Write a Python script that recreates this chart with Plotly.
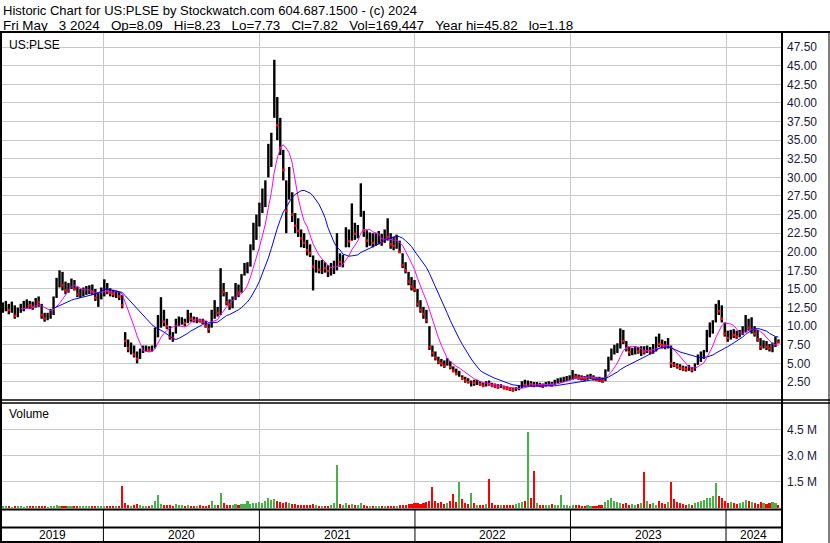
import pandas as pd
import plotly.graph_objects as go

W, H = 830, 543

title_line1 = "Historic Chart for US:PLSE by Stockwatch.com 604.687.1500 - (c) 2024"
title_line2 = "Fri May  3 2024  Op=8.09  Hi=8.23  Lo=7.73  Cl=7.82  Vol=169,447  Year hi=45.82  lo=1.18"
symbol_label = "US:PLSE"

# weekly bars (week ending Friday, last = 2024-05-03)
week_high = [
    13.2, 13.4, 13.0, 13.3, 12.8, 12.5, 13.0, 13.4, 13.6, 13.4, 13.3, 13.8, 14.0, 13.0, 11.8, 11.8, 12.3, 14.0, 16.5, 17.5,
    17.3, 16.0, 15.8, 16.4, 16.2, 15.3, 15.0, 15.2, 15.4, 15.5, 15.6, 15.0, 14.6, 15.2, 16.3, 15.8, 15.1, 14.9, 14.8, 14.6,
    14.2, 9.2, 8.2, 7.8, 7.4, 6.6, 7.0, 7.4, 7.4, 7.3, 7.4, 9.8, 11.5, 13.9, 12.2, 11.0, 10.0, 9.2, 11.0, 11.3,
    11.2, 11.0, 12.2, 11.8, 11.3, 11.2, 11.0, 11.0, 10.7, 10.3, 12.2, 13.5, 12.6, 17.8, 15.8, 14.6, 13.6, 14.0, 15.8, 15.6,
    17.0, 18.5, 18.6, 21.0, 23.9, 25.0, 26.6, 28.5, 29.6, 34.5, 36.0, 45.8, 40.8, 38.0, 33.7, 29.6, 31.4, 28.0, 25.2, 24.5,
    23.0, 22.5, 21.6, 21.0, 19.5, 18.9, 18.8, 18.9, 18.6, 18.2, 18.5, 18.8, 22.5, 19.8, 19.6, 23.3, 23.0, 26.5, 23.9, 23.6,
    29.2, 25.5, 22.9, 22.6, 22.5, 22.5, 22.8, 22.4, 23.0, 24.5, 22.5, 22.0, 22.3, 21.5, 19.8, 18.6, 17.3, 16.6, 16.2, 15.0,
    13.5, 12.6, 12.2, 10.0, 7.4, 6.6, 5.9, 5.6, 5.4, 5.7, 5.3, 4.6, 4.3, 4.0, 3.4, 3.2, 3.0, 2.7, 2.8, 2.8,
    2.6, 2.4, 2.6, 2.7, 2.4, 2.3, 2.2, 2.2, 2.0, 1.9, 1.8, 1.7, 1.8, 2.0, 2.6, 2.8, 2.7, 2.6, 2.5, 2.5,
    2.4, 2.3, 2.5, 2.6, 2.5, 2.8, 3.0, 3.1, 3.2, 3.3, 3.4, 4.1, 3.6, 3.5, 3.4, 3.3, 3.5, 3.6, 3.4, 3.2,
    3.2, 3.1, 4.2, 5.9, 7.0, 7.5, 7.7, 9.7, 9.5, 8.0, 7.2, 7.1, 7.3, 7.2, 7.3, 7.3, 7.4, 7.2, 7.6, 8.6,
    9.0, 8.2, 8.0, 8.4, 7.4, 5.2, 5.0, 4.9, 4.7, 4.6, 4.8, 4.5, 5.0, 6.2, 6.6, 6.8, 9.5, 10.5, 10.8, 13.0,
    13.5, 12.8, 10.5, 9.4, 9.5, 9.6, 9.4, 9.5, 10.0, 11.5, 11.0, 11.2, 10.0, 9.5, 8.4, 8.1, 8.0, 7.6, 7.8, 8.6,
    8.23,
]
week_low = [
    11.8, 12.0, 11.6, 11.8, 11.0, 11.2, 11.8, 12.0, 12.4, 12.3, 12.2, 12.5, 12.6, 11.0, 10.6, 10.8, 11.0, 11.5, 13.8, 15.2,
    14.8, 14.3, 14.5, 15.0, 14.8, 13.9, 13.8, 14.0, 14.2, 14.3, 14.2, 13.4, 12.6, 13.6, 14.0, 14.3, 14.0, 13.9, 13.8, 13.5,
    12.4, 7.2, 6.5, 6.2, 5.8, 5.0, 5.6, 6.4, 6.6, 6.5, 6.6, 7.0, 8.5, 9.8, 10.0, 9.6, 8.2, 7.9, 9.0, 10.0,
    10.2, 10.0, 10.4, 10.6, 10.5, 10.4, 10.5, 10.3, 9.8, 9.1, 9.8, 11.0, 11.3, 11.5, 14.0, 12.8, 12.2, 12.4, 13.5, 13.9,
    14.5, 16.8, 17.1, 18.0, 20.2, 21.6, 23.4, 25.2, 26.0, 30.0, 31.4, 38.0, 35.0, 33.0, 29.6, 22.5, 27.0, 24.0, 22.5, 22.0,
    20.6, 20.5, 19.5, 19.3, 14.8, 17.2, 17.1, 17.0, 17.2, 16.6, 16.8, 17.0, 17.5, 18.0, 17.9, 20.6, 20.6, 21.5, 21.6, 21.8,
    24.7, 22.0, 20.6, 20.8, 20.6, 20.8, 21.0, 20.8, 21.2, 21.5, 20.4, 20.2, 20.4, 19.8, 17.8, 17.1, 15.5, 14.8, 14.6, 12.6,
    11.8, 11.0, 10.4, 6.8, 5.9, 5.4, 4.9, 4.6, 4.4, 4.7, 4.2, 3.8, 3.4, 3.2, 2.8, 2.4, 2.3, 1.9, 2.0, 2.1,
    2.0, 1.8, 1.9, 2.0, 1.8, 1.7, 1.6, 1.7, 1.5, 1.4, 1.3, 1.2, 1.3, 1.4, 1.7, 1.9, 2.0, 1.9, 1.8, 1.9,
    1.8, 1.7, 1.9, 2.0, 1.9, 2.1, 2.3, 2.4, 2.5, 2.6, 2.7, 2.8, 2.9, 2.8, 2.7, 2.6, 2.8, 2.9, 2.7, 2.6,
    2.5, 2.4, 2.6, 3.9, 5.4, 6.2, 6.4, 7.0, 7.6, 6.6, 6.0, 6.1, 6.2, 6.3, 6.0, 6.2, 6.4, 6.2, 6.3, 6.6,
    7.2, 7.0, 6.9, 7.0, 4.4, 4.5, 4.3, 4.1, 4.0, 3.9, 4.0, 3.8, 4.0, 4.8, 5.2, 5.6, 6.5, 8.5, 9.0, 10.5,
    11.5, 10.5, 8.6, 7.9, 8.2, 8.4, 8.3, 8.5, 8.8, 9.2, 9.4, 9.0, 8.6, 7.9, 6.8, 7.0, 6.8, 6.6, 6.5, 7.2,
    7.73,
]
week_close = [
    12.5, 12.8, 12.2, 12.9, 11.4, 12.0, 12.6, 12.7, 13.0, 12.8, 12.6, 13.3, 13.2, 11.5, 11.0, 11.2, 11.8, 13.6, 16.0, 16.3,
    15.5, 14.8, 15.2, 15.8, 15.0, 14.3, 14.5, 14.6, 14.8, 15.0, 14.6, 13.8, 14.2, 14.8, 15.5, 14.8, 14.5, 14.3, 14.4, 14.0,
    12.8, 8.0, 7.0, 7.2, 6.2, 5.6, 6.4, 6.9, 7.0, 6.8, 7.1, 9.2, 10.8, 11.6, 10.6, 10.0, 8.6, 8.4, 10.5, 10.6,
    10.8, 10.4, 11.5, 11.0, 10.8, 10.9, 10.7, 10.5, 10.0, 9.6, 11.5, 12.0, 11.8, 15.4, 14.6, 13.2, 12.8, 13.8, 15.0, 14.5,
    16.8, 17.6, 18.0, 20.5, 22.5, 24.0, 24.8, 27.5, 28.8, 33.5, 34.5, 42.0, 37.0, 34.0, 31.0, 25.5, 29.0, 25.0, 23.5, 22.8,
    21.8, 21.2, 20.2, 19.8, 18.0, 18.2, 17.6, 18.3, 17.8, 17.4, 17.9, 18.2, 19.0, 18.6, 19.2, 22.0, 21.4, 23.5, 22.4, 23.0,
    26.0, 22.8, 21.5, 21.8, 21.2, 21.6, 22.0, 21.3, 22.3, 22.0, 21.0, 20.8, 21.5, 20.0, 18.2, 17.5, 16.0, 15.3, 15.0, 13.0,
    12.2, 11.6, 10.8, 7.2, 6.4, 5.8, 5.2, 5.0, 4.7, 5.2, 4.5, 4.0, 3.6, 3.7, 3.0, 2.7, 2.5, 2.6, 2.4, 2.4,
    2.2, 2.0, 2.3, 2.2, 2.0, 1.9, 1.8, 1.9, 1.7, 1.6, 1.5, 1.4, 1.5, 1.7, 2.2, 2.1, 2.5, 2.2, 2.1, 2.2,
    2.0, 1.9, 2.2, 2.3, 2.1, 2.5, 2.7, 2.8, 2.9, 3.0, 3.0, 3.4, 3.2, 3.1, 3.0, 2.9, 3.2, 3.3, 3.0, 2.8,
    2.7, 2.6, 3.9, 5.4, 6.6, 6.8, 7.3, 8.8, 8.0, 7.0, 6.5, 6.6, 6.8, 6.6, 7.0, 6.5, 7.0, 6.6, 7.2, 7.8,
    7.6, 7.5, 7.4, 7.8, 5.0, 4.8, 4.6, 4.4, 4.3, 4.2, 4.4, 4.1, 4.6, 5.8, 6.0, 6.5, 9.0, 9.4, 10.2, 12.4,
    12.0, 11.0, 9.0, 8.4, 9.0, 8.8, 8.6, 9.2, 9.6, 10.8, 9.8, 10.2, 9.0, 8.2, 7.2, 7.6, 7.2, 7.0, 7.4, 7.9,
    7.82,
]
# typical daily volume in each week, millions of shares
volume_m = [
    0.08, 0.06, 0.1, 0.05, 0.07, 0.12, 0.06, 0.05, 0.08, 0.06, 0.07, 0.09, 0.1, 0.06, 0.08, 0.05, 0.07, 0.12, 0.15, 0.1,
    0.08, 0.09, 0.07, 0.1, 0.08, 0.06, 0.07, 0.1, 0.08, 0.09, 0.07, 0.1, 0.12, 0.09, 0.08, 0.1, 0.07, 0.09, 0.08, 0.1,
    1.26, 0.3, 0.15, 0.12, 0.18, 0.22, 0.15, 0.12, 0.1, 0.14, 0.18, 0.43, 0.73, 0.25, 0.2, 0.15, 0.18, 0.14, 0.22, 0.16,
    0.15, 0.12, 0.18, 0.14, 0.12, 0.1, 0.15, 0.12, 0.14, 0.2, 0.4, 0.18, 0.15, 0.85, 0.3, 0.2, 0.15, 0.18, 0.22, 0.2,
    0.25, 0.22, 0.4, 0.25, 0.3, 0.28, 0.35, 0.3, 0.4, 0.55, 0.45, 0.5, 0.4, 0.35, 0.3, 0.35, 0.3, 0.25, 0.22, 0.2,
    0.18, 0.2, 0.15, 0.2, 0.25, 0.15, 0.12, 0.14, 0.1, 0.12, 0.15, 0.3, 2.45, 0.25, 0.15, 0.3, 0.2, 0.25, 0.18, 0.15,
    0.3, 0.15, 0.12, 0.1, 0.08, 0.1, 0.09, 0.08, 0.1, 0.12, 0.1, 0.09, 0.12, 0.15, 0.2, 0.18, 0.22, 0.25, 0.3, 0.28,
    0.25, 0.3, 0.35, 0.4, 1.2, 0.4, 0.3, 0.35, 0.25, 0.3, 0.4, 0.79, 0.35, 1.5, 0.5, 0.3, 0.25, 0.85, 0.3, 0.2,
    0.18, 0.2, 0.25, 1.68, 0.3, 0.2, 0.15, 0.18, 0.2, 0.15, 0.18, 0.2, 0.25, 0.3, 0.35, 0.4, 4.4, 0.6, 2.15, 0.3,
    0.2, 0.15, 0.18, 0.2, 0.25, 0.15, 0.18, 0.73, 0.2, 0.15, 0.12, 0.15, 0.18, 0.15, 0.12, 0.1, 0.15, 0.12, 0.1, 0.12,
    0.15, 0.2, 0.35, 0.45, 0.55, 0.4, 0.35, 0.3, 0.25, 0.3, 0.2, 0.25, 0.2, 0.25, 0.3, 2.1, 0.4, 0.25, 0.3, 0.2,
    0.4, 0.3, 0.25, 0.35, 1.5, 0.5, 0.35, 0.3, 0.25, 0.2, 0.25, 0.2, 0.3, 0.35, 0.4, 0.45, 0.6, 0.55, 0.7, 1.44,
    0.7, 0.55, 0.4, 0.3, 0.35, 0.3, 0.25, 0.3, 0.35, 0.45, 0.4, 0.35, 0.3, 0.25, 0.35, 0.3, 0.25, 0.3, 0.35, 0.3,
    0.17,
]

price_ticks = [2.5, 5.0, 7.5, 10.0, 12.5, 15.0, 17.5, 20.0, 22.5, 25.0, 27.5, 30.0,
               32.5, 35.0, 37.5, 40.0, 42.5, 45.0, 47.5]
volume_ticks = [1.5, 3.0, 4.5]
volume_tick_labels = ["1.5 M", "3.0 M", "4.5 M"]
years = ["2019", "2020", "2021", "2022", "2023", "2024"]

df = pd.DataFrame({"high": week_high, "low": week_low, "close": week_close, "vol": volume_m})
df["date"] = pd.date_range(end="2024-05-03", periods=len(df), freq="W-FRI")
df["ma_fast"] = df["close"].rolling(7).mean()
df["ma_slow"] = df["close"].rolling(18).mean()
df["down"] = df["close"] < df["close"].shift(1)

x_start, x_end = pd.Timestamp("2019-05-08"), pd.Timestamp("2024-05-09")
year_starts = [pd.Timestamp(f"{y}-01-01") for y in years[1:]]


def py(y):
    return 1 - y / H


def px(x):
    return x / W


# high-low bars
bx, by = [], []
for d, lo, hi in zip(df["date"], df["low"], df["high"]):
    bx += [d, d, None]
    by += [lo, hi, None]

fig = go.Figure()
fig.add_trace(go.Scatter(x=bx, y=by, mode="lines", line=dict(color="black", width=2.4),
                         hoverinfo="skip"))
dn = df[df["down"]]
fig.add_trace(go.Scatter(x=dn["date"], y=dn["close"], mode="markers",
                         marker=dict(color="red", size=2.5, symbol="square", line=dict(width=0))))
fig.add_trace(go.Scatter(x=df["date"], y=df["ma_fast"], mode="lines",
                         line=dict(color="#FF00FF", width=1)))
fig.add_trace(go.Scatter(x=df["date"], y=df["ma_slow"], mode="lines",
                         line=dict(color="#0000FF", width=1)))
fig.add_trace(go.Bar(x=df["date"], y=df["vol"], xaxis="x2", yaxis="y2",
                     marker=dict(color=["#FF0000" if d else "#44B444" for d in df["down"]],
                                 line=dict(width=0)),
                     width=0.7 * 7 * 24 * 3600 * 1000))

grid = "#C8C8C8"
tick_font = dict(family="Liberation Sans, Arial, sans-serif", size=12, color="#1a1a3a")
fig.update_layout(
    width=W, height=H, margin=dict(l=0, r=0, t=0, b=0),
    paper_bgcolor="white", plot_bgcolor="white", showlegend=False, bargap=0,
    xaxis=dict(domain=[px(2), px(781)], range=[x_start, x_end], type="date",
               tickvals=year_starts, showticklabels=False, ticks="",
               showgrid=True, gridcolor=grid, gridwidth=1, zeroline=False, anchor="y"),
    yaxis=dict(domain=[py(400), py(33)], range=[0.08, 49.4], side="right",
               tickvals=price_ticks, ticktext=[f"{v:.2f}" for v in price_ticks],
               tickfont=tick_font, ticks="", ticklabelstandoff=5,
               showgrid=True, gridcolor=grid, gridwidth=1, zeroline=False, anchor="x"),
    xaxis2=dict(domain=[px(2), px(781)], range=[x_start, x_end], type="date",
                tickvals=year_starts, showticklabels=False, ticks="", matches="x",
                showgrid=True, gridcolor=grid, gridwidth=1, zeroline=False, anchor="y2"),
    yaxis2=dict(domain=[py(508), py(402)], range=[0, 6.1], side="right",
                tickvals=volume_ticks, ticktext=volume_tick_labels,
                tickfont=tick_font, ticks="", ticklabelstandoff=5,
                showgrid=True, gridcolor=grid, gridwidth=1, zeroline=False, anchor="x2"),
)

text_font = dict(family="Liberation Sans, Arial, sans-serif", size=13, color="black")
# keep the spacing of the original header (its gaps render wider than two plain spaces)
line1 = title_line1.replace(" ", "&nbsp;")
line2 = title_line2.replace("  ", "&nbsp;&nbsp;&nbsp;").replace(" ", "&nbsp;")
fig.add_annotation(x=px(1), y=py(1), xref="paper", yref="paper", xanchor="left", yanchor="top",
                   text=line1, showarrow=False, font=text_font)
fig.add_annotation(x=px(1), y=py(16), xref="paper", yref="paper", xanchor="left", yanchor="top",
                   text=line2, showarrow=False, font=dict(text_font, size=13.4))
fig.add_annotation(x=px(7), y=py(36), xref="paper", yref="paper", xanchor="left", yanchor="top",
                   text=symbol_label, showarrow=False, font=dict(text_font, size=12))
fig.add_annotation(x=px(7), y=py(405), xref="paper", yref="paper", xanchor="left", yanchor="top",
                   text="Volume", showarrow=False, font=dict(text_font, size=12))

# year labels centred in each year segment
edges = [x_start] + year_starts + [x_end]
for i, y in enumerate(years):
    mid = edges[i] + (edges[i + 1] - edges[i]) / 2
    fig.add_annotation(x=mid, y=py(535), xref="x", yref="paper", text=y, showarrow=False,
                       font=dict(text_font, size=12), yanchor="middle")

shapes = []


def hline(y, x0, x1, w=2):
    shapes.append(dict(type="line", xref="paper", yref="paper", x0=px(x0), x1=px(x1),
                       y0=py(y), y1=py(y), line=dict(color="black", width=w)))


def vline(x, y0, y1, w=2):
    shapes.append(dict(type="line", xref="paper", yref="paper", x0=px(x), x1=px(x),
                       y0=py(y0), y1=py(y1), line=dict(color="black", width=w)))


hline(32, 0, 830)
hline(400, 0, 830, 1.5)
hline(403, 0, 830, 1.5)
hline(509.5, 0, 782)
hline(527.5, 0, 782)
hline(542, 0, 782)
vline(1, 32, 543)
vline(782, 32, 543)
vline(829, 32, 543, 1)
for ys in year_starts:
    shapes.append(dict(type="line", xref="x", yref="paper", x0=ys, x1=ys, y0=py(510), y1=py(543),
                       line=dict(color="black", width=1)))
fig.update_layout(shapes=shapes)

# the page body has a default 8px margin; drop it so the chart sits at the window corner
fig.write_html("out.html", config={"displayModeBar": False},
               post_script="document.body.style.margin='0';")
